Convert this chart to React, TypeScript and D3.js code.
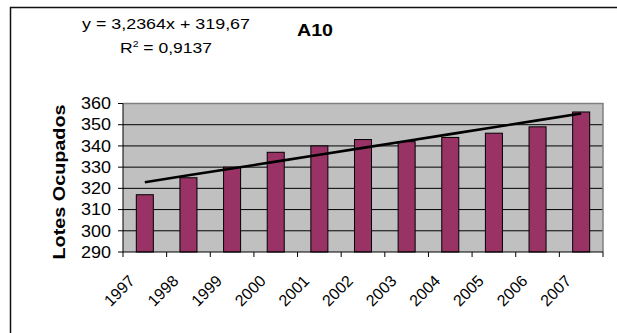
import React from "react";
import * as d3 from "d3";

// Occupied lots per year
const years = ["1997", "1998", "1999", "2000", "2001", "2002", "2003", "2004", "2005", "2006", "2007"];
const lots = [317, 325, 330, 337, 340, 343, 342, 344, 346, 349, 356];
const yTicks = [290, 300, 310, 320, 330, 340, 350, 360];

// Linear trend (x = 1..n)
const trendSlope = 3.2364;
const trendIntercept = 319.67;
const equationLabel = "y = 3,2364x + 319,67";
const r2Value = "0,9137";
const chartTitle = "A10";
const yTitle = "Lotes Ocupados";

const W = 617;
const H = 333;
const plot = { left: 123, right: 603, top: 103.5, bottom: 252 };
const FONT = "'Liberation Sans', Arial, Helvetica, sans-serif";

export default function App() {
  const x = d3.scaleBand<string>().domain(years).range([plot.left, plot.right]).padding(0);
  const y = d3.scaleLinear().domain([290, 360]).range([plot.bottom, plot.top]);
  const bw = x.bandwidth() * 0.39;
  const cx = (yr: string) => (x(yr) as number) + x.bandwidth() / 2;

  const trendY = (i: number) => trendIntercept + trendSlope * i;
  const trendLine = d3
    .line<number>()
    .x((i) => cx(years[i - 1]))
    .y((i) => y(trendY(i)));

  const boundaries = years.map((yr) => x(yr) as number).concat([plot.right]);

  return (
    <svg
      width={W}
      height={H}
      style={{ position: "absolute", left: 0, top: 0, display: "block", background: "#fff" }}
      fontFamily={FONT}
    >
      {/* outer chart frame */}
      <rect x={10.5} y={7.5} width={700} height={400} fill="none" stroke="#111" strokeWidth={1.5} />

      {/* plot area */}
      <rect
        x={plot.left}
        y={plot.top}
        width={plot.right - plot.left}
        height={plot.bottom - plot.top}
        fill="#C0C0C0"
      />
      {yTicks.slice(1).map((t) => (
        <line key={t} x1={plot.left} x2={plot.right} y1={y(t)} y2={y(t)} stroke="#000" strokeWidth={1} />
      ))}
      <path
        d={`M${plot.left},${plot.top}H${plot.right}V${plot.bottom}`}
        fill="none"
        stroke="#808080"
        strokeWidth={1.5}
      />

      {/* bars */}
      {years.map((yr, i) => (
        <rect
          key={yr}
          x={cx(yr) - bw / 2}
          y={y(lots[i])}
          width={bw}
          height={plot.bottom - y(lots[i])}
          fill="#993366"
          stroke="#000"
          strokeWidth={1}
        />
      ))}

      {/* trend line */}
      <path
        d={trendLine(d3.range(1, years.length + 1)) as string}
        fill="none"
        stroke="#000"
        strokeWidth={2.6}
      />

      {/* axes */}
      <line x1={plot.left} x2={plot.left} y1={plot.top} y2={plot.bottom} stroke="#000" strokeWidth={1} />
      <line x1={plot.left} x2={plot.right} y1={plot.bottom} y2={plot.bottom} stroke="#000" strokeWidth={1} />
      {yTicks.map((t) => (
        <g key={t}>
          <line x1={plot.left - 5} x2={plot.left} y1={y(t)} y2={y(t)} stroke="#000" />
          <text
            x={111}
            y={y(t)}
            dy="0.36em"
            textAnchor="end"
            fontSize={16}
            textLength={30}
            lengthAdjust="spacingAndGlyphs"
            fill="#000"
          >
            {t}
          </text>
        </g>
      ))}
      {boundaries.map((b, i) => (
        <line key={i} x1={b} x2={b} y1={plot.bottom} y2={plot.bottom + 5} stroke="#000" />
      ))}
      {years.map((yr) => (
        <text
          key={yr}
          transform={`translate(${cx(yr) - 9},${282}) rotate(-45)`}
          textAnchor="end"
          fontSize={16}
          fill="#000"
        >
          {yr}
        </text>
      ))}

      {/* axis title */}
      <text
        transform={`translate(65,182) rotate(-90)`}
        textAnchor="middle"
        fontSize={16}
        fontWeight="bold"
        textLength={155}
        lengthAdjust="spacingAndGlyphs"
        fill="#000"
      >
        {yTitle}
      </text>

      {/* trend equation and title */}
      <text x={82} y={28.5} fontSize={15} textLength={168} lengthAdjust="spacingAndGlyphs" fill="#000">
        {equationLabel}
      </text>
      <text x={120} y={53} fontSize={15} textLength={92} lengthAdjust="spacingAndGlyphs" fill="#000">
        R<tspan fontSize={9} dy={-6}>2</tspan>
        <tspan dy={6}>{" = " + r2Value}</tspan>
      </text>
      <text x={297} y={36} fontSize={16} fontWeight="bold" textLength={36} lengthAdjust="spacingAndGlyphs" fill="#000">
        {chartTitle}
      </text>
    </svg>
  );
}
